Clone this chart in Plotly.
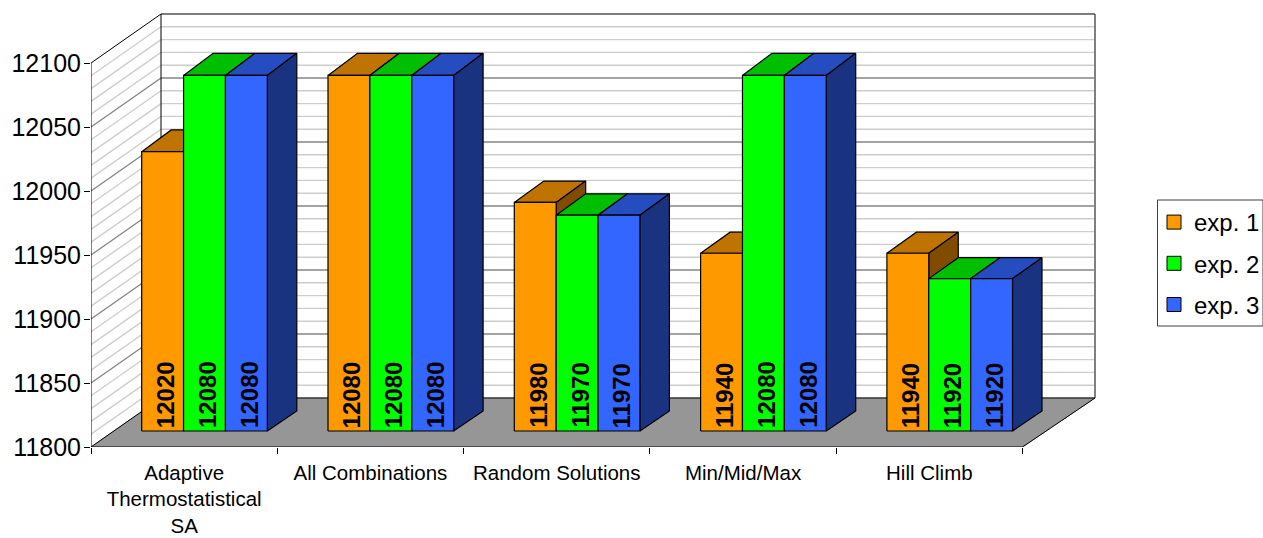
import numpy as np
import plotly.graph_objects as go

categories = ["Adaptive<br>Thermostatistical<br>SA", "All Combinations",
              "Random Solutions", "Min/Mid/Max", "Hill Climb"]
exp_1 = [12020, 12080, 11980, 11940, 11940]
exp_2 = [12080, 12080, 11970, 12080, 11920]
exp_3 = [12080, 12080, 11970, 12080, 11920]
series_names = ["exp. 1", "exp. 2", "exp. 3"]
y_ticks = [11800, 11850, 11900, 11950, 12000, 12050, 12100]

# Front, top and side shades for each series
front_colors = ["#FF9900", "#00FF00", "#3366FF"]
top_colors = ["#BF7300", "#00BF00", "#264DBF"]
side_colors = ["#804D00", "#008000", "#1A3380"]

# Scale of the oblique projection: screen pixels per data unit
CAT_PX = 186.3
VAL_PX = 1.28
Y_MIN, Y_MAX = 11800, 12100
WALL_DX = 70 / CAT_PX
WALL_DY = 49 / VAL_PX
RIGHT = (1095 - 91) / CAT_PX
BAR_W = 41.87 / CAT_PX
BAR_GAP = 50.7 / CAT_PX
BAR_DX = 29.5 / CAT_PX

# Plot area in pixels
PLOT_L, PLOT_R, PLOT_T, PLOT_B = 91, 1096, 13, 447


def front_y(v):
    return Y_MIN + (v - Y_MIN) * 0.992 + 16 / VAL_PX


def back_y(v):
    return Y_MIN + (v - Y_MIN) * 0.998 + 36 / VAL_PX


fig = go.Figure()


def poly(xs, ys, fill, line="black", width=1.2):
    fig.add_trace(go.Scatter(
        x=xs, y=ys, mode="lines", fill="toself", fillcolor=fill,
        line=dict(color=line, width=width), showlegend=False, hoverinfo="skip",
        cliponaxis=False))


def segs(pairs, color, width):
    xs, ys = [], []
    for x0, y0, x1, y1 in pairs:
        xs += [x0, x1, None]
        ys += [y0, y1, None]
    fig.add_trace(go.Scatter(
        x=xs, y=ys, mode="lines", line=dict(color=color, width=width),
        showlegend=False, hoverinfo="skip", cliponaxis=False))


# Gridlines running along the left wall and across the back wall
minor = [v for v in np.arange(Y_MIN, Y_MAX + 1, 10) if (v - Y_MIN) % 50 != 0]
major = [v for v in y_ticks[1:-1]]
for levels, color in ((minor, "#CDCDCD"), (major, "#858585")):
    pairs = []
    for v in levels:
        pairs.append((0, v, WALL_DX, v + WALL_DY))
        pairs.append((WALL_DX, v + WALL_DY, RIGHT, v + WALL_DY))
    segs(pairs, color, 1.4)

# Floor and frame of the chart box
floor_y = Y_MIN + WALL_DY
poly([0, 5, RIGHT, WALL_DX, 0], [Y_MIN, Y_MIN, floor_y, floor_y, Y_MIN], "#969696", "#969696", 1)
segs([(RIGHT, floor_y, RIGHT, Y_MAX + WALL_DY)], "#808080", 2)
segs([(WALL_DX, Y_MAX + WALL_DY, RIGHT, Y_MAX + WALL_DY)], "#505050", 1.5)
segs([(WALL_DX, floor_y, RIGHT, floor_y),
      (WALL_DX, floor_y, WALL_DX, Y_MAX + WALL_DY),
      (0, Y_MIN, 0, Y_MAX),
      (0, Y_MAX, WALL_DX, Y_MAX + WALL_DY),
      (0, Y_MIN, WALL_DX, floor_y),
      (5, Y_MIN, RIGHT, floor_y),
      (0, Y_MIN, 5, Y_MIN)], "black", 1)

# Bars, painted left to right so nearer faces overlap correctly
annotations = []
for c in range(len(categories)):
    for s, values in enumerate((exp_1, exp_2, exp_3)):
        v = values[c]
        x0 = c + BAR_GAP + s * BAR_W
        x1 = x0 + BAR_W
        poly([x0, x1, x1 + BAR_DX, x0 + BAR_DX, x0],
             [front_y(v), front_y(v), back_y(v), back_y(v), front_y(v)], top_colors[s])
        poly([x1, x1 + BAR_DX, x1 + BAR_DX, x1, x1],
             [front_y(Y_MIN), back_y(Y_MIN), back_y(v), front_y(v), front_y(Y_MIN)], side_colors[s])
        poly([x0, x1, x1, x0, x0],
             [front_y(Y_MIN), front_y(Y_MIN), front_y(v), front_y(v), front_y(Y_MIN)], front_colors[s])
        annotations.append(dict(
            x=(x0 + x1) / 2, y=front_y(Y_MIN), xref="x", yref="y",
            text="<b>" + str(v) + "</b>",
            showarrow=False, textangle=-90, yanchor="bottom", xanchor="center",
            yshift=2, xshift=3, font=dict(family="Liberation Sans", size=24, color="black"),
            borderpad=0))

# Legend entries
for s, name in enumerate(series_names):
    fig.add_trace(go.Scatter(
        x=[None], y=[None], mode="markers", name=name, legendgroup=name,
        marker=dict(symbol="square", size=14, color=front_colors[s],
                    line=dict(color="black", width=1))))

# Frame around the legend, given in pixels of the page
legend_frame = dict(
    type="rect", xref="paper", yref="paper", layer="below",
    x0=(1157.5 - PLOT_L) / (PLOT_R - PLOT_L), x1=(1263 - PLOT_L) / (PLOT_R - PLOT_L),
    y0=(PLOT_B - 326) / (PLOT_B - PLOT_T), y1=(PLOT_B - 200) / (PLOT_B - PLOT_T),
    line=dict(color="#404040", width=1), fillcolor="white")

fig.update_layout(
    width=1263, height=538,
    margin=dict(l=PLOT_L, r=1263 - PLOT_R, t=PLOT_T, b=538 - PLOT_B, autoexpand=False),
    paper_bgcolor="white", plot_bgcolor="white", hovermode=False,
    font=dict(family="Liberation Sans", color="black"),
    annotations=annotations, shapes=[legend_frame],
    legend=dict(
        xref="container", yref="container", x=1154 / 1263, y=1 - 200 / 538,
        xanchor="left", yanchor="top", borderwidth=0,
        bgcolor="rgba(0,0,0,0)", font=dict(size=24), tracegroupgap=7, traceorder="grouped",
        itemclick=False, itemdoubleclick=False),
    xaxis=dict(
        range=[0, (PLOT_R - PLOT_L) / CAT_PX], showgrid=False, zeroline=False, showline=False,
        tickmode="array", tickvals=[i + 0.5 for i in range(len(categories))],
        ticktext=categories, ticks="outside", ticklen=7, tickcolor="rgba(0,0,0,0)",
        tickfont=dict(size=20.5),
        minor=dict(tickmode="array", tickvals=list(range(len(categories) + 1)),
                   ticks="outside", ticklen=6, tickcolor="black", showgrid=False)),
    yaxis=dict(
        range=[Y_MIN, Y_MIN + (PLOT_B - PLOT_T) / VAL_PX], showgrid=False, zeroline=False,
        showline=False, tickmode="array", tickvals=y_ticks,
        ticktext=[str(t) for t in y_ticks], ticks="outside", ticklen=6, tickcolor="black",
        tickfont=dict(size=25), ticklabelstandoff=-2),
)

fig.write_html("out.html")
